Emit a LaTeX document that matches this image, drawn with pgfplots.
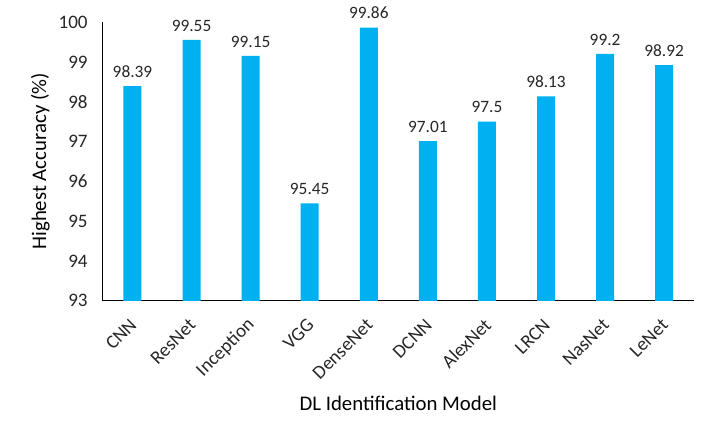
\documentclass[border=0pt]{standalone}
\usepackage{pgfplots}
\pgfplotsset{compat=1.18}
\usepackage{fontspec}
\setmainfont{Carlito}
\definecolor{barblue}{HTML}{00B0F0}
\begin{document}
\begin{tikzpicture}
\useasboundingbox (-77.25pt,-105pt) rectangle (460.75pt,225.75pt);
\begin{axis}[
  at={(0,0)}, anchor=south west,
  scale only axis,
  width=443.25pt, height=209.25pt,
  xmin=-0.5, xmax=9.5,
  ymin=93, ymax=100,
  ytick={93,94,...,100},
  xtick={0,...,9},
  xticklabels={CNN,ResNet,Inception,VGG,DenseNet,DCNN,AlexNet,LRCN,NasNet,LeNet},
  axis x line*=bottom, axis y line*=left,
  axis line style={black, line width=0.8pt, -},
  major tick length=0pt,
  tick label style={font=\fontsize{14.3}{16}\selectfont, text=black!85},
  /pgf/number format/assume math mode=true,
  yticklabel style={xshift=-8pt},
  xticklabel style={rotate=45, anchor=east, yshift=-11.7pt, xshift=-7.3pt},
  xlabel={DL Identification Model},
  ylabel={Highest Accuracy (\%)},
  label style={font=\fontsize{15.6}{18}\selectfont, text=black},
  xlabel style={at={(rel axis cs:0.5,0)}, anchor=center, yshift=-77pt},
  ylabel style={at={(rel axis cs:0,0.5)}, anchor=center, yshift=47pt},
  ybar, bar width=13.5pt,
  nodes near coords,
  nodes near coords style={font=\fontsize{13}{15}\selectfont, text=black!85, yshift=3pt},
  point meta=explicit symbolic,
  clip=false,
]
\addplot[fill=barblue, draw=none] coordinates {
  (0,98.39) [98.39]
  (1,99.55) [99.55]
  (2,99.15) [99.15]
  (3,95.45) [95.45]
  (4,99.86) [99.86]
  (5,97.01) [97.01]
  (6,97.5)  [97.5]
  (7,98.13) [98.13]
  (8,99.2)  [99.2]
  (9,98.92) [98.92]
};
\end{axis}
\end{tikzpicture}
\end{document}
